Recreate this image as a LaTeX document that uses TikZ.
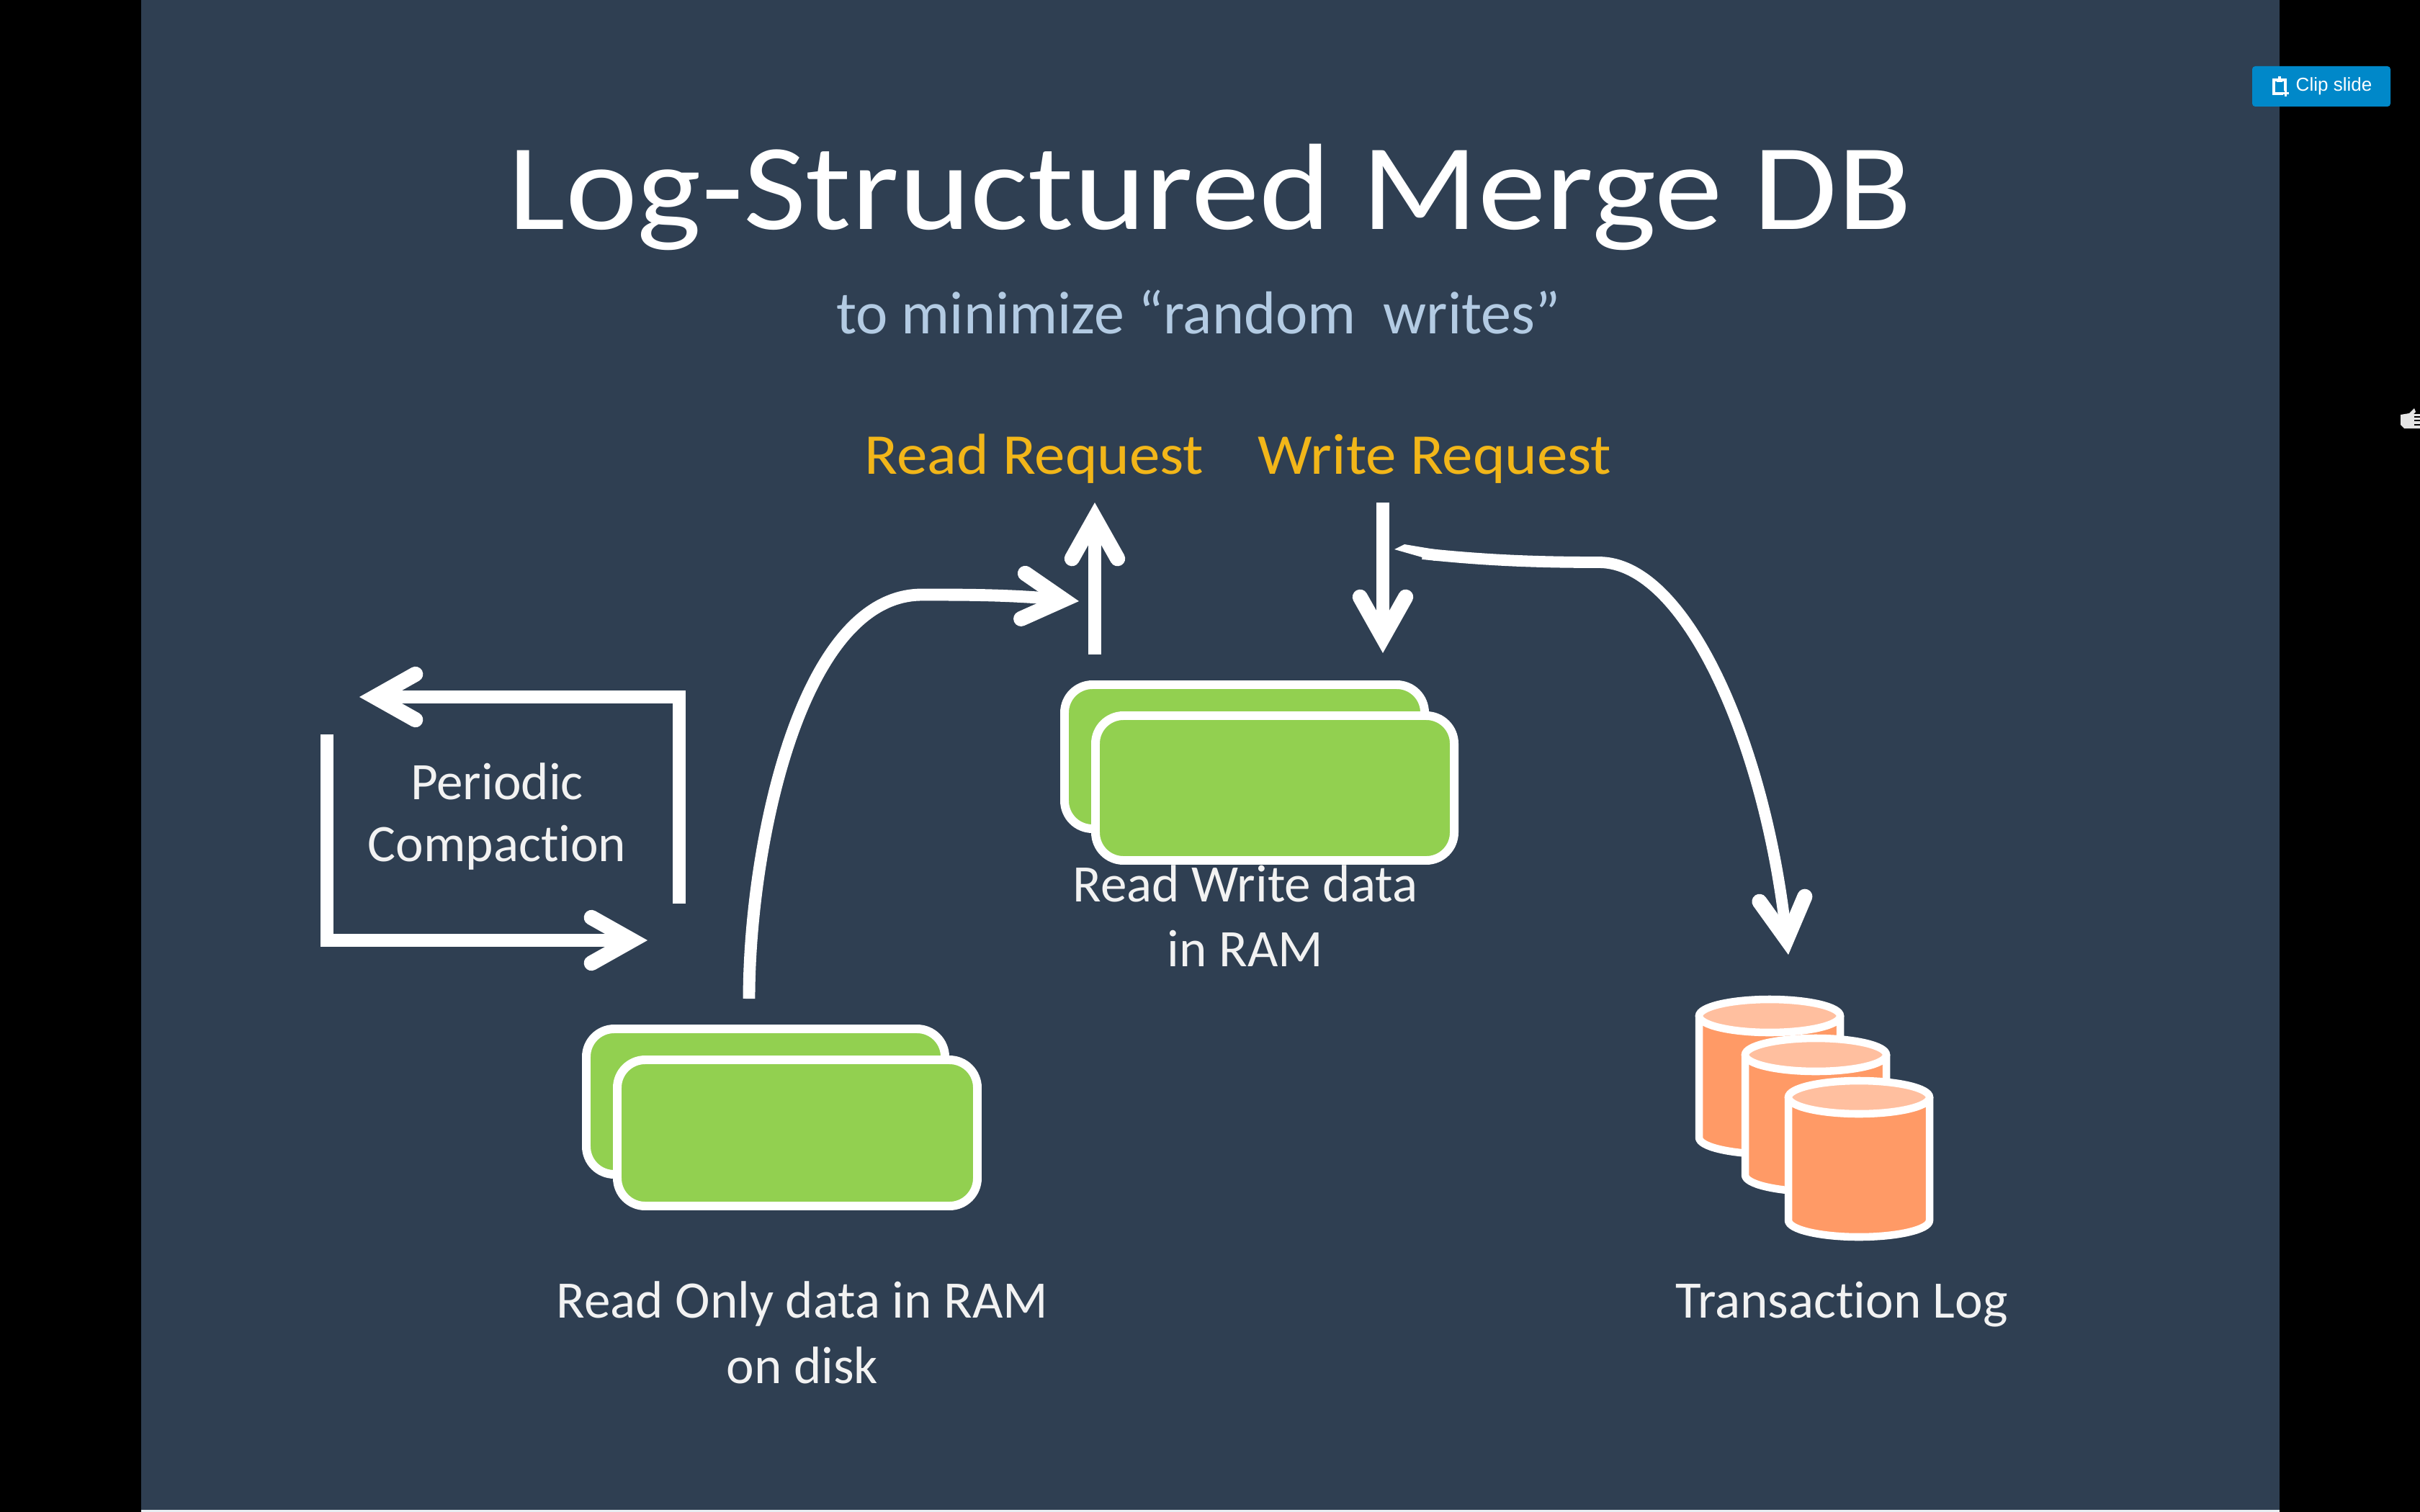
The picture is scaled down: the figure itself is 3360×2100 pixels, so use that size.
\documentclass[tikz,border=0pt]{standalone}
\usepackage{fontspec}
\setmainfont{Carlito}[Ligatures=NoCommon]
\newfontfamily\titlefont{Carlito}[FakeStretch=1.11,Ligatures=NoCommon]
\newfontfamily\reqfont{Carlito}[FakeStretch=1.06,Ligatures=NoCommon]
\newfontfamily\btnfont{Liberation Sans}
\usetikzlibrary{arrows.meta}
\definecolor{slidebg}{HTML}{2F3F52}
\definecolor{bottomline}{HTML}{E8EEF2}
\definecolor{greenbox}{HTML}{92D050}
\definecolor{cylbody}{HTML}{FF9A66}
\definecolor{cyltop}{HTML}{FFBF9F}
\definecolor{reqtext}{HTML}{F2B619}
\definecolor{subtext}{HTML}{B3CBE3}
\definecolor{labeltext}{HTML}{F2F2F2}
\definecolor{clipblue}{HTML}{0088C9}
\newcommand{\fs}[1]{\fontsize{#1}{#1}\selectfont}
\tikzset{
  flowarrow/.style={draw=white,line width=5pt,-{Straight Barb[line cap=round,line join=miter,length=16pt,width=18pt,line width=6pt]}},
  databox/.style={draw=white,fill=greenbox,line width=3.4pt,rounded corners=11pt},
  cyl/.style={draw=white,line width=3pt,fill=cylbody,line join=round},
  cylcap/.style={draw=white,line width=3pt,fill=cyltop},
  lbl/.style={text=labeltext,align=center,inner sep=0pt,font=\fs{20.8}},
  req/.style={text=reqtext,inner sep=0pt,anchor=base,font=\reqfont\fs{22.8}},
}
\begin{document}
\begin{tikzpicture}[x=0.01cm,y=-0.01cm]
\useasboundingbox (0,0) rectangle (3360,2100);
\fill[black] (0,0) rectangle (3360,2100);
\fill[slidebg] (196,0) rectangle (3165,2097);
\fill[bottomline] (196,2097) rectangle (3165,2100);

\node[text=white,inner sep=0pt,anchor=base,font=\titlefont\fs{48.5}] (title) at (1680,318) {Log-Structured Merge DB};
\node[text=subtext,inner sep=0pt,anchor=base,font=\fs{23.9}] (subtitle) at (1664,463) {to minimize “random\ \ writes”};
\node[req] (readreq) at (1436,658) {Read Request};
\node[req] (writereq) at (1992,658) {Write Request};

% read-write data boxes
\draw[databox] (1478,951) rectangle (1978,1151);
\draw[databox] (1521,994) rectangle (2019,1195);
\node[lbl] (rwlabel) at (1729,1272) {Read Write data\\[5pt]in RAM};

% read-only data boxes
\draw[databox] (814,1429) rectangle (1312,1631);
\draw[databox] (857,1472) rectangle (1357,1675);
\node[lbl] (rolabel) at (1114,1851) {Read Only data in RAM\\[5pt]on disk};

% transaction log cylinders
\foreach \cx/\ct/\cb/\nm in {2457/1411/1580/a,2521/1465/1632/b,2581/1524/1695/c}{
  \draw[cyl] (\cx-98,\ct) -- (\cx-98,\cb) arc[start angle=180,end angle=0,x radius=98,y radius=23]
     -- (\cx+98,\ct) -- cycle;
  \draw[cylcap] (\cx,\ct) ellipse[x radius=98,y radius=23];
}
\node[lbl] (loglabel) at (2557,1812) {Transaction Log};
\node[lbl] (pclabel) at (690,1134) {Periodic\\[3.6pt]Compaction};

% named connector ends
\coordinate (rs) at (1520,909);
\coordinate (rt) at (1520,698);
\coordinate (ws) at (1920,698);
\coordinate (wt) at (1920,907);
\coordinate (cs) at (1040,1387);
\coordinate (ct) at (1498,835);
\coordinate (ls) at (1975,769);
\coordinate (lt) at (2483,1326);
\coordinate (ps) at (943,1255);
\coordinate (pc) at (943,968);
\coordinate (pt) at (499,968);
\coordinate (qs) at (454,1020);
\coordinate (qc) at (454,1306);
\coordinate (qt) at (899,1306);

\draw[flowarrow] (rs) -- (rt);
\draw[flowarrow] (ws) -- (wt);
\draw[flowarrow,line width=4.8pt] (cs) .. controls (1040,1180) and (1110,826) .. (1280,826)
   .. controls (1340,826) and (1400,826) .. (ct);
\fill[white] (1936,763) -- (1950,756) -- (1992,763) -- (1992,779) -- cycle;
\draw[flowarrow,line width=4.5pt] (ls) .. controls (2060,778) and (2130,781) .. (2220,781)
   .. controls (2340,781) and (2450,1030) .. (lt);
\draw[flowarrow,line join=miter] (ps) -- (pc) -- (pt);
\draw[flowarrow,line join=miter] (qs) -- (qc) -- (qt);

% clip button
\fill[clipblue,rounded corners=1.2pt] (3127,92) rectangle (3319,148) ;
\node[text=white,inner sep=0pt,anchor=base west,font=\btnfont\fs{7.4}] (clip) at (3187,127) {Clip slide};
\draw[white,line width=1.1pt] (3173,126) -- (3173,111) -- (3157,111) -- (3157,130) -- (3170,130);
\fill[white] (3161,109) rectangle (3169,114);
\fill[white] (3163,106) rectangle (3167,109);
\fill[white] (3168,128.5) rectangle (3178,131.5);
\fill[white] (3171.5,124) rectangle (3174.5,134);

% hand cursor
\fill[white!90!black] (3333,576) -- (3345,574) -- (3352,567) -- (3354,572) -- (3351,575) -- (3360,575) -- (3360,595) -- (3338,595) -- (3333,590) -- cycle;
\draw[black,line width=0.6pt] (3352,579) -- (3360,579) (3352,584) -- (3360,584) (3352,590) -- (3360,590);
\end{tikzpicture}
\end{document}
